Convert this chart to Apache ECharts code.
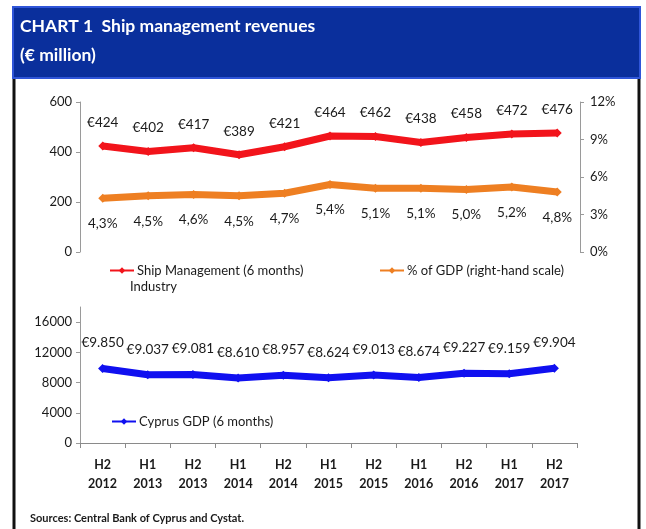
<!DOCTYPE html>
<html>
<head>
<meta charset="utf-8">
<title>Ship management revenues</title>
<script src="https://cdn.jsdelivr.net/npm/echarts@6/dist/echarts.min.js"></script>
<style>
  html, body { margin: 0; padding: 0; background: #fff; }
  #chart { width: 646px; height: 529px; }
</style>
</head>
<body>
<div id="chart"></div>
<script>
// half-year periods
const periods = ['H2\n2012', 'H1\n2013', 'H2\n2013', 'H1\n2014', 'H2\n2014', 'H1\n2015',
  'H2\n2015', 'H1\n2016', 'H2\n2016', 'H1\n2017', 'H2\n2017']

// € million, 6 months
const shipMgmt = [424, 402, 417, 389, 421, 464, 462, 438, 458, 472, 476]
// % of GDP
const gdpShare = [4.3, 4.5, 4.6, 4.5, 4.7, 5.4, 5.1, 5.1, 5.0, 5.2, 4.8]
// € million, 6 months
const cyprusGdp = [9850, 9037, 9081, 8610, 8957, 8624, 9013, 8674, 9227, 9159, 9904]

const revenueTicks = [0, 200, 400, 600]
const shareTicks = [0, 3, 6, 9, 12]
const gdpTicks = [0, 4000, 8000, 12000, 16000]

const FONT = 'Lato'
const TEXT = '#1a1a1a'

const chart = echarts.init(document.getElementById('chart'))

const withDots = (n) => String(n).replace(/\B(?=(\d{3})+(?!\d))/g, '.')

const valueAxisBase = {
  type: 'value',
  axisLine: { show: true, lineStyle: { color: '#9a9a9a', width: 1 } },
  axisTick: { show: true, length: 4, lineStyle: { color: '#9a9a9a' } },
  splitLine: { show: false },
  axisLabel: {
    color: TEXT,
    fontFamily: FONT,
    fontSize: 13,
    margin: 8,
    formatter: (v) => String(v),
  },
}

chart.setOption({
  backgroundColor: '#fff',
  animation: false,
  graphic: [
    // white panel with black side borders
    {
      type: 'rect',
      shape: { x: 14, y: 76, width: 625, height: 460 },
      style: { fill: '#fff', stroke: '#111', lineWidth: 3 },
      z: -10,
    },
    // blue header band
    {
      type: 'rect',
      shape: { x: 13, y: 7, width: 627, height: 71 },
      style: { fill: '#0a2f9c', stroke: '#2f55d8', lineWidth: 2 },
      z: -5,
    },
    {
      type: 'text',
      left: 20,
      top: 17,
      style: {
        text: 'CHART 1  Ship management revenues',
        fill: '#fff',
        font: 'bold 17.5px ' + FONT,
      },
    },
    {
      type: 'text',
      left: 20,
      top: 46,
      style: { text: '(€ million)', fill: '#fff', font: 'bold 17.5px ' + FONT },
    },
    {
      type: 'text',
      left: 130,
      top: 280,
      style: { text: 'Industry', fill: TEXT, font: '13px ' + FONT },
    },
    {
      type: 'text',
      left: 30,
      top: 513,
      style: {
        text: 'Sources: Central Bank of Cyprus and Cystat.',
        fill: TEXT,
        font: 'bold 11px ' + FONT,
      },
    },
  ],
  legend: [
    {
      data: ['Ship Management (6 months)'],
      left: 104,
      top: 259,
      itemWidth: 24,
      itemHeight: 8,
      textStyle: { color: TEXT, fontFamily: FONT, fontSize: 13, padding: [0, 0, 0, -2] },
    },
    {
      data: ['% of GDP (right-hand scale)'],
      left: 374,
      top: 259,
      itemWidth: 24,
      itemHeight: 8,
      textStyle: { color: TEXT, fontFamily: FONT, fontSize: 13, padding: [0, 0, 0, -2] },
    },
    {
      data: ['Cyprus GDP (6 months)'],
      left: 106,
      top: 410,
      itemWidth: 24,
      itemHeight: 8,
      textStyle: { color: TEXT, fontFamily: FONT, fontSize: 13, padding: [0, 0, 0, -2] },
    },
  ],
  grid: [
    { left: 80, right: 66, top: 102, height: 150 },
    { left: 80, right: 69, top: 307, height: 136 },
  ],
  xAxis: [
    {
      type: 'category',
      gridIndex: 0,
      data: periods,
      axisLine: { show: false },
      axisTick: { show: false },
      axisLabel: { show: false },
    },
    {
      type: 'category',
      gridIndex: 1,
      data: periods,
      axisLine: { show: true, lineStyle: { color: '#8a8a8a' } },
      axisTick: { show: true, length: 5, lineStyle: { color: '#8a8a8a' } },
      axisLabel: {
        color: TEXT,
        fontFamily: FONT,
        fontWeight: 'bold',
        fontSize: 12.5,
        lineHeight: 19,
        margin: 12,
      },
    },
  ],
  yAxis: [
    {
      ...valueAxisBase,
      gridIndex: 0,
      min: 0,
      max: 600,
      interval: 200,
      axisLabel: { ...valueAxisBase.axisLabel, customValues: revenueTicks },
      axisTick: { ...valueAxisBase.axisTick, customValues: revenueTicks },
    },
    {
      ...valueAxisBase,
      gridIndex: 0,
      position: 'right',
      min: 0,
      max: 12,
      interval: 3,
      axisLabel: {
        ...valueAxisBase.axisLabel,
        customValues: shareTicks,
        formatter: '{value}%',
        margin: 10,
      },
      axisTick: { ...valueAxisBase.axisTick, customValues: shareTicks },
    },
    {
      ...valueAxisBase,
      gridIndex: 1,
      min: 0,
      max: 18000,
      axisLabel: { ...valueAxisBase.axisLabel, customValues: gdpTicks },
      axisTick: { ...valueAxisBase.axisTick, customValues: gdpTicks },
    },
  ],
  series: [
    {
      name: 'Ship Management (6 months)',
      type: 'line',
      xAxisIndex: 0,
      yAxisIndex: 0,
      data: shipMgmt,
      symbol: 'diamond',
      symbolSize: 9,
      lineStyle: { width: 7, color: '#f2141b' },
      itemStyle: { color: '#f2141b' },
      label: {
        show: true,
        position: 'top',
        distance: 12,
        color: TEXT,
        fontFamily: FONT,
        fontSize: 13.5,
        formatter: (p) => '€' + p.value,
      },
    },
    {
      name: '% of GDP (right-hand scale)',
      type: 'line',
      xAxisIndex: 0,
      yAxisIndex: 1,
      data: gdpShare,
      symbol: 'diamond',
      symbolSize: 9,
      lineStyle: { width: 7, color: '#ee7f22' },
      itemStyle: { color: '#ee7f22' },
      label: {
        show: true,
        position: 'bottom',
        distance: 14,
        color: TEXT,
        fontFamily: FONT,
        fontSize: 13.5,
        formatter: (p) => p.value.toFixed(1).replace('.', ',') + '%',
      },
    },
    {
      name: 'Cyprus GDP (6 months)',
      type: 'line',
      xAxisIndex: 1,
      yAxisIndex: 2,
      data: cyprusGdp,
      symbol: 'diamond',
      symbolSize: 9,
      lineStyle: { width: 7, color: '#1010f0' },
      itemStyle: { color: '#1010f0' },
      label: {
        show: true,
        position: 'top',
        distance: 14,
        color: TEXT,
        fontFamily: FONT,
        fontSize: 13.5,
        formatter: (p) => '€' + withDots(p.value),
      },
    },
  ],
})

window.addEventListener('resize', () => chart.resize())
</script>
</body>
</html>
